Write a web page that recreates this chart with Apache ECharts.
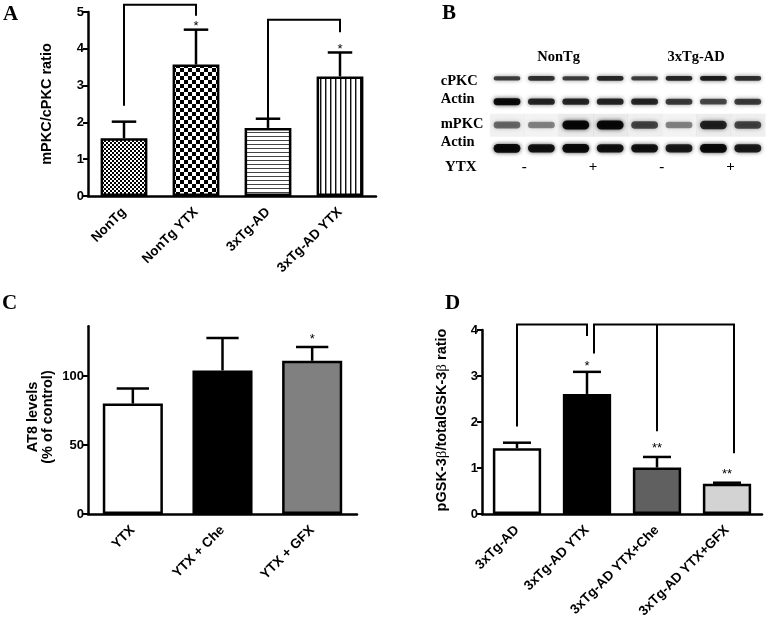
<!DOCTYPE html>
<html><head><meta charset="utf-8">
<script src="https://cdn.jsdelivr.net/npm/echarts@6/dist/echarts.min.js"></script>
<style>html,body{margin:0;padding:0;background:#fff}#c{width:773px;height:621px}</style>
</head><body><div id="c"></div>
<script>
// ---------- Panel A ----------
const aCategories = ['NonTg', 'NonTg YTX', '3xTg-AD', '3xTg-AD YTX'];
const aMeans = [1.57, 3.57, 1.85, 3.25];
const aErrTops = [2.02, 4.52, 2.10, 3.90];
const aTicks = [0, 1, 2, 3, 4, 5];
const aBrackets = [
  [[0, 2.45], [0, 5.2], [1, 5.2], [1, 4.9]],
  [[2, 2.05], [2, 4.79], [3, 4.79], [3, 4.45]]
];
const aStars = [[1, 4.60], [3, 3.98]];
const aStarText = ['*', '*'];

// ---------- Panel B (western blot band intensities, 0..1) ----------
const bRows = ['cPKC', 'Actin', 'mPKC', 'Actin'];
const bIntensity = [
  [0.75, 0.80, 0.75, 0.85, 0.75, 0.85, 0.90, 0.80],
  [1.00, 0.85, 0.85, 0.85, 0.85, 0.75, 0.70, 0.75],
  [0.55, 0.45, 1.00, 1.00, 0.70, 0.45, 0.85, 0.70],
  [1.00, 0.95, 1.00, 0.95, 0.95, 0.90, 1.00, 0.90]
];
const bGroups = ['NonTg', '3xTg-AD'];
const bYtx = ['-', '+', '-', '+'];

// ---------- Panel C ----------
const cCategories = ['YTX', 'YTX + Che', 'YTX + GFX'];
const cMeans = [80, 104, 111];
const cErrTops = [91, 127.5, 121];
const cTicks = [0, 50, 100];
const cStars = [[2, 126.5]];
const cStarText = ['*'];

// ---------- Panel D ----------
const dCategories = ['3xTg-AD', '3xTg-AD YTX', '3xTg-AD YTX+Che', '3xTg-AD YTX+GFX'];
const dMeans = [1.43, 2.61, 1.01, 0.66];
const dErrTops = [1.55, 3.09, 1.24, 0.68];
const dTicks = [0, 1, 2, 3, 4];
const dBrackets = [
  [[0, 1.9], [0, 4.12], [1, 4.12], [1, 3.87]],
  [[1.1, 3.49], [1.1, 4.12], [3.1, 4.12], [3.1, 1.32]],
  [[2, 4.12], [2, 1.8]]
];
const dStars = [[1, 3.20], [2, 1.42], [3, 0.86]];
const dStarText = ['*', '**', '**'];

// ---------- styling helpers ----------
const SANS = 'Liberation Sans, Arial, sans-serif';
const SERIF = 'Liberation Serif, Times New Roman, serif';

function makeCanvas(w, h, draw) {
  const cv = document.createElement('canvas');
  cv.width = w; cv.height = h;
  const ctx = cv.getContext('2d');
  ctx.fillStyle = '#fff'; ctx.fillRect(0, 0, w, h);
  draw(ctx);
  return { image: cv, repeat: 'repeat' };
}
const patFine = makeCanvas(4, 4, c => { c.fillStyle = '#000'; c.fillRect(0, 0, 2, 2); c.fillRect(2, 2, 2, 2); });
const patCoarse = makeCanvas(8, 8, c => { c.fillStyle = '#000'; c.fillRect(0, 0, 4, 4); c.fillRect(4, 4, 4, 4); });
const patHoriz = makeCanvas(4, 4, c => { c.fillStyle = '#444'; c.fillRect(0, 0, 4, 1); });
const patVert = makeCanvas(5, 5, c => { c.fillStyle = '#111'; c.fillRect(0, 0, 1, 5); c.fillStyle = '#999'; c.fillRect(1, 0, 1, 5); });

function catAxis(gridIndex, data) {
  return {
    type: 'category', gridIndex, data,
    axisLine: { onZero: false, lineStyle: { color: '#000', width: 2.5 } },
    axisTick: { alignWithLabel: true, length: 6, lineStyle: { width: 2, color: '#000' } },
    axisLabel: { interval: 0, rotate: 45, margin: 14, color: '#000', fontWeight: 'bold', fontSize: 13.5, fontFamily: SANS },
    splitLine: { show: false }
  };
}
function hiddenX(gridIndex, n) {
  return { type: 'value', gridIndex, min: -0.5, max: n - 0.5, show: false, splitLine: { show: false } };
}
function valY(gridIndex, min, max, interval, ticks) {
  return {
    type: 'value', gridIndex, min, max, interval,
    axisLine: { show: true, onZero: false, lineStyle: { color: '#000', width: 2.5 } },
    axisTick: { show: true, length: 5, lineStyle: { width: 2, color: '#000' }, customValues: ticks },
    axisLabel: { color: '#000', fontWeight: 'bold', fontSize: 13, fontFamily: SANS, margin: 4, customValues: ticks },
    splitLine: { show: false }
  };
}
function barSeries(xi, yi, means, colors, width) {
  return {
    type: 'bar', xAxisIndex: xi, yAxisIndex: yi, barWidth: width, z: 2, silent: true,
    data: means.map((v, i) => ({ value: v, itemStyle: { color: colors[i] } })),
    itemStyle: { borderColor: '#000', borderWidth: 2.5 }
  };
}
function errSeries(xi, yi, means, tops, capFrac) {
  return {
    type: 'custom', xAxisIndex: xi, yAxisIndex: yi, z: 3, silent: true, clip: false,
    data: means.map((m, i) => [i, m, tops[i]]),
    renderItem(params, api) {
      const p0 = api.coord([api.value(0), api.value(1)]);
      const p1 = api.coord([api.value(0), api.value(2)]);
      const hw = api.size([1, 0])[0] * capFrac / 2;
      const st = { stroke: '#000', lineWidth: 2.5 };
      return { type: 'group', children: [
        { type: 'line', shape: { x1: p0[0], y1: p0[1], x2: p1[0], y2: p1[1] }, style: st },
        { type: 'line', shape: { x1: p1[0] - hw, y1: p1[1], x2: p1[0] + hw, y2: p1[1] }, style: st }
      ] };
    }
  };
}
function bracketSeries(xi, yi, lines) {
  return {
    type: 'custom', xAxisIndex: xi, yAxisIndex: yi, z: 3, silent: true, clip: false,
    data: lines.map(l => [l[0][0], l[0][1]]),
    renderItem(params, api) {
      const pts = lines[params.dataIndex].map(p => api.coord(p));
      return { type: 'polyline', shape: { points: pts }, style: { stroke: '#000', lineWidth: 2, fill: null } };
    }
  };
}
function textSeries(xi, yi, pts, texts, font, color) {
  return {
    type: 'custom', xAxisIndex: xi, yAxisIndex: yi, z: 4, silent: true, clip: false,
    data: pts,
    renderItem(params, api) {
      const p = api.coord([api.value(0), api.value(1)]);
      return { type: 'text', x: p[0], y: p[1], style: { text: texts[params.dataIndex], font, fill: color || '#000', align: 'center', verticalAlign: 'middle' } };
    }
  };
}

// blot bands
const bandData = [];
bIntensity.forEach((row, r) => row.forEach((a, l) => bandData.push([l, r, a])));
const rowBase = [4.5, 6, 8, 7.5];
const blotSeries = {
  type: 'custom', xAxisIndex: 2, yAxisIndex: 1, z: 2, silent: true, clip: false,
  data: bandData,
  renderItem(params, api) {
    const l = api.value(0), r = api.value(1), a = api.value(2);
    const c = api.coord([l, r]);
    const s = api.size([1, 1]);
    const cw = Math.abs(s[0]), ch = Math.abs(s[1]);
    const w = cw * 0.78;
    const h = rowBase[r] * (0.5 + 0.65 * a);
    const children = [];
    if (r === 2) {
      children.push({ type: 'rect', shape: { x: c[0] - cw / 2, y: c[1] - ch * 0.48, width: cw + 0.5, height: ch * 0.98 },
        style: { fill: 'rgba(0,0,0,' + (0.02 + 0.06 * a).toFixed(3) + ')' } });
    }
    children.push({ type: 'rect', shape: { x: c[0] - w / 2, y: c[1] - h / 2, width: w, height: h, r: h / 2 },
      style: { fill: 'rgba(0,0,0,' + (a * 0.92).toFixed(3) + ')', shadowBlur: 4, shadowColor: 'rgba(0,0,0,' + (a * 0.8).toFixed(3) + ')' } });
    return { type: 'group', children };
  }
};
const groupPts = bGroups.map((g, i) => [i * 4 + 1.5, -0.92]);
const ytxPts = bYtx.map((s, i) => [i * 2 + 0.5, 3.8]);

const chart = echarts.init(document.getElementById('c'), null, { renderer: 'canvas' });
const option = {
  animation: false,
  backgroundColor: '#fff',
  grid: [
    { left: 88, top: 12, width: 288, height: 184 },
    { left: 489.8, top: 66.7, width: 275.2, height: 93.3 },
    { left: 88, top: 326.3, width: 269, height: 187.7 },
    { left: 482, top: 330, width: 280, height: 184 }
  ],
  xAxis: [
    catAxis(0, aCategories),
    hiddenX(0, aCategories.length),
    { type: 'value', gridIndex: 1, min: -0.5, max: bIntensity[0].length - 0.5, show: false, splitLine: { show: false } },
    catAxis(2, cCategories),
    hiddenX(2, cCategories.length),
    catAxis(3, dCategories),
    hiddenX(3, dCategories.length)
  ],
  yAxis: [
    valY(0, 0, 5, 1, aTicks),
    { type: 'value', gridIndex: 1, min: -0.5, max: bRows.length - 0.5, inverse: true, show: false, splitLine: { show: false } },
    valY(2, 0, 136, 50, cTicks),
    valY(3, 0, 4, 1, dTicks)
  ],
  series: [
    barSeries(0, 0, aMeans, [patFine, patCoarse, patHoriz, patVert], '65%'),
    errSeries(1, 0, aMeans, aErrTops, 0.34),
    bracketSeries(1, 0, aBrackets),
    textSeries(1, 0, aStars, aStarText, 'normal 13px ' + SANS),
    blotSeries,
    textSeries(2, 1, groupPts, bGroups, 'bold 14.5px ' + SERIF),
    textSeries(2, 1, ytxPts, bYtx, 'bold 15px ' + SERIF),
    barSeries(3, 2, cMeans, ['#ffffff', '#000000', '#808080'], '67%'),
    errSeries(4, 2, cMeans, cErrTops, 0.36),
    textSeries(4, 2, cStars, cStarText, 'normal 13px ' + SANS),
    barSeries(5, 3, dMeans, ['#ffffff', '#000000', '#606060', '#d3d3d3'], '69%'),
    errSeries(6, 3, dMeans, dErrTops, 0.4),
    bracketSeries(6, 3, dBrackets),
    textSeries(6, 3, dStars, dStarText, 'normal 13px ' + SANS)
  ],
  graphic: [
    { type: 'text', x: 3, y: 14.5, style: { text: 'A', font: 'bold 21px ' + SERIF, fill: '#000', align: 'left', verticalAlign: 'middle' } },
    { type: 'text', x: 442, y: 14, style: { text: 'B', font: 'bold 21px ' + SERIF, fill: '#000', align: 'left', verticalAlign: 'middle' } },
    { type: 'text', x: 2, y: 304, style: { text: 'C', font: 'bold 21px ' + SERIF, fill: '#000', align: 'left', verticalAlign: 'middle' } },
    { type: 'text', x: 445, y: 304, style: { text: 'D', font: 'bold 21px ' + SERIF, fill: '#000', align: 'left', verticalAlign: 'middle' } },
    { type: 'text', x: 46.5, y: 104, rotation: Math.PI / 2, style: { text: 'mPKC/cPKC ratio', font: 'bold 14.5px ' + SANS, fill: '#000', align: 'center', verticalAlign: 'middle' } },
    { type: 'text', x: 40.5, y: 417, rotation: Math.PI / 2, style: { text: 'AT8 levels\n(% of control)', font: 'bold 14.5px ' + SANS, lineHeight: 15, fill: '#000', align: 'center', verticalAlign: 'middle' } },
    { type: 'text', x: 441.7, y: 420, rotation: Math.PI / 2, style: {
      text: 'pGSK-3{b|β}/totalGSK-3{b|β} ratio', font: 'bold 14.5px ' + SANS, fill: '#000', align: 'center', verticalAlign: 'middle',
      rich: { b: { fontFamily: SERIF, fontWeight: 'normal', fontSize: 15, fill: '#000' } } } },
    { type: 'text', x: 440.7, y: 81, style: { text: bRows[0], font: 'bold 14.5px ' + SERIF, fill: '#000', verticalAlign: 'middle' } },
    { type: 'text', x: 440.7, y: 99, style: { text: bRows[1], font: 'bold 14.5px ' + SERIF, fill: '#000', verticalAlign: 'middle' } },
    { type: 'text', x: 440.7, y: 124, style: { text: bRows[2], font: 'bold 14.5px ' + SERIF, fill: '#000', verticalAlign: 'middle' } },
    { type: 'text', x: 440.7, y: 142, style: { text: bRows[3], font: 'bold 14.5px ' + SERIF, fill: '#000', verticalAlign: 'middle' } },
    { type: 'text', x: 445, y: 167, style: { text: 'YTX', font: 'bold 15px ' + SERIF, fill: '#000', verticalAlign: 'middle' } }
  ]
};
chart.setOption(option);
</script></body></html>
